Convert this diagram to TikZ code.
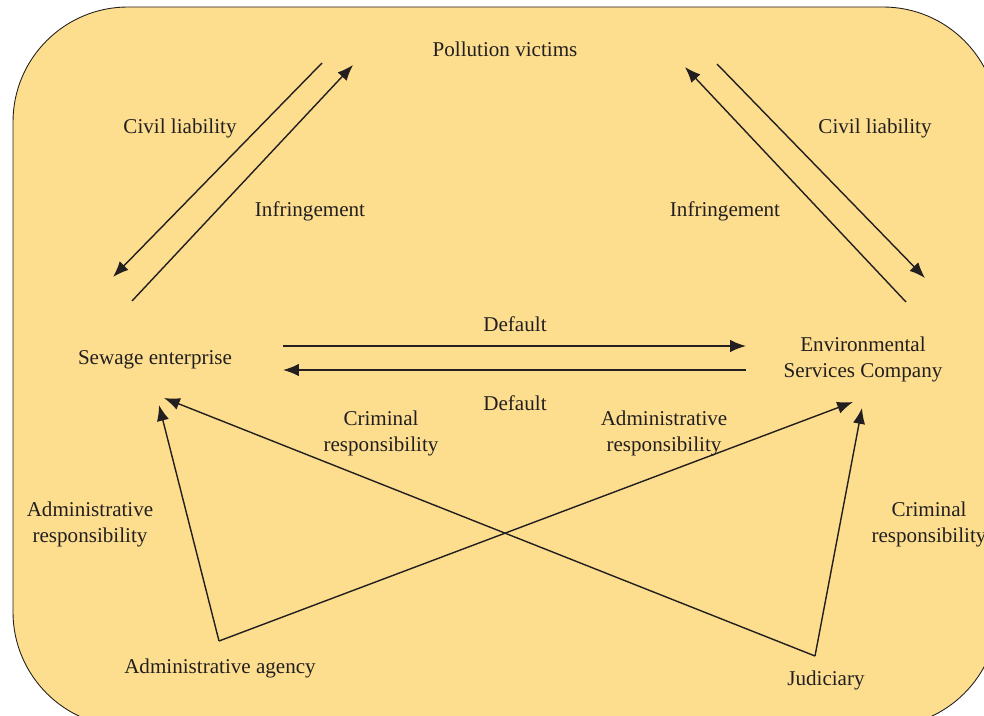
\documentclass[tikz,border=0pt]{standalone}
\usepackage{fontspec}
\setmainfont{Liberation Serif}
\usetikzlibrary{arrows.meta}

\begin{document}
\begin{tikzpicture}[x=0.02cm, y=-0.02cm,
    lbl/.style={font=\fontsize{12}{14.7}\selectfont, text=inkgray, align=center, inner sep=1pt, yshift=-0.055cm},
    rel/.style={draw=inkgray, line width=0.8pt, -{Latex[length=9pt,width=7pt]}}]
    % Define panel colors
    \definecolor{panelyellow}{RGB}{253, 222, 142}
    \definecolor{inkgray}{RGB}{35, 31, 32}

    % Panel with rounded corners, cut at the page edge
    \useasboundingbox (0,0) rectangle (984,716);
    \begin{scope}
        \clip (0,0) rectangle (984,716);
        \filldraw[fill=panelyellow, draw=inkgray, line width=0.5pt, rounded corners=2.3cm]
        (13,7) rectangle (998,727);
    \end{scope}

    % Parties
    \node[lbl] (victims) at (505,47) {Pollution victims};
    \node[lbl] (sewage) at (155,357) {Sewage enterprise};
    \node[lbl] (esc) at (863,357) {Environmental\\Services Company};
    \node[lbl] (agency) at (220,666) {Administrative agency};
    \node[lbl] (judiciary) at (826,678) {Judiciary};

    % Relation labels
    \foreach \px/\py/\txt/\nm in {180/126/{Civil liability}/civL, 310/209/{Infringement}/infL,
            875/126/{Civil liability}/civR, 725/209/{Infringement}/infR,
            515/321/{Default}/defT, 515/400/{Default}/defB,
            381/431/{Criminal\\responsibility}/crimM, 664/431/{Administrative\\responsibility}/admM,
            90/522/{Administrative\\responsibility}/admL, 929/522/{Criminal\\responsibility}/crimR} {
        \node[lbl] (\nm) at (\px,\py) {\txt};
    }

    % Arrow ends
    \coordinate (civLa) at (322,63);  \coordinate (civLb) at (113,277);
    \coordinate (infLa) at (132,301); \coordinate (infLb) at (353,65);
    \coordinate (civRa) at (717,64);  \coordinate (civRb) at (925,278);
    \coordinate (infRa) at (906,302); \coordinate (infRb) at (685,67);
    \coordinate (defTa) at (283,346); \coordinate (defTb) at (746,346);
    \coordinate (defBa) at (746,370); \coordinate (defBb) at (283,370);
    \coordinate (agencyTip) at (219,641);
    \coordinate (judTip) at (815,656);
    \coordinate (sewAdm) at (159,405); \coordinate (sewCrim) at (164,398);
    \coordinate (escAdm) at (853,402); \coordinate (escCrim) at (862,408);

    % Connectors
    \draw[rel] (civLa) -- (civLb);
    \draw[rel] (infLa) -- (infLb);
    \draw[rel] (civRa) -- (civRb);
    \draw[rel] (infRa) -- (infRb);
    \draw[rel] (defTa) -- (defTb);
    \draw[rel] (defBa) -- (defBb);
    \draw[rel] (agencyTip) -- (sewAdm);
    \draw[rel] (agencyTip) -- (escAdm);
    \draw[rel] (judTip) -- (sewCrim);
    \draw[rel] (judTip) -- (escCrim);

\end{tikzpicture}
\end{document}
